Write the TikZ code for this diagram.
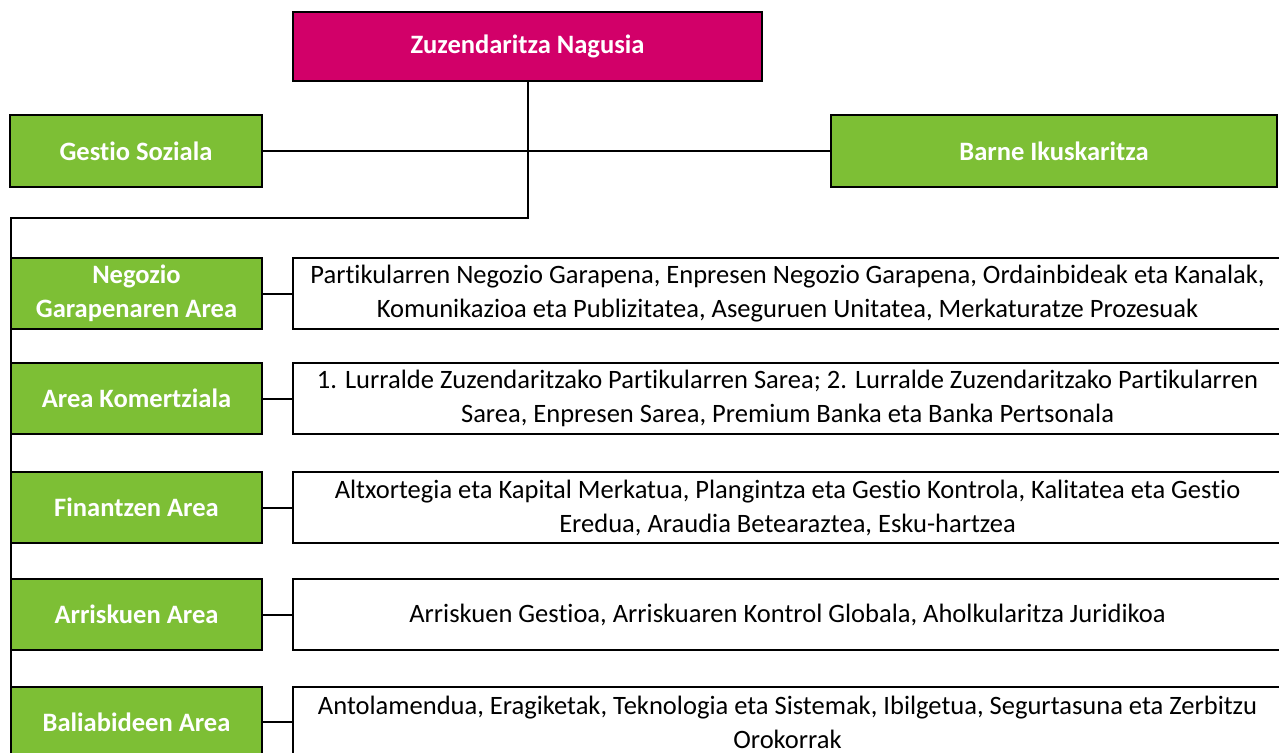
\documentclass[tikz,border=0pt]{standalone}
\usepackage{fontspec}
\setmainfont{Carlito}[Ligatures=NoCommon]
\usetikzlibrary{positioning}
\definecolor{znpink}{RGB}{210,0,105}
\definecolor{areagreen}{RGB}{125,191,53}
\begin{document}
\begin{tikzpicture}[x=0.75pt,y=-0.75pt]

			\tikzstyle{head}=[fill=znpink,draw=black,line width=1.5pt,
				minimum width=351.75pt,minimum height=51.75pt,
				text=white,font=\fontsize{19.9}{25.5}\selectfont\bfseries]
			\tikzstyle{area}=[fill=areagreen,draw=black,line width=1.5pt,
				minimum width=188.25pt,minimum height=53.25pt,
				align=center,text=white,inner sep=2pt,
				font=\fontsize{19.9}{25.5}\selectfont\bfseries]
			\tikzstyle{units}=[fill=white,draw=black,line width=1.5pt,
				minimum width=741.75pt,minimum height=53.25pt,
				node distance=488.25pt,align=center,inner sep=2pt,
				font=\fontsize{19.9}{25.5}\selectfont]
			\tikzstyle{link}=[draw=black,line width=1.5pt]

			\useasboundingbox (0,0) rectangle (1279,753);
			\clip (0,0) rectangle (1279,753);

			\node[head]		(zn)	at (527.5,46.5)	{Zuzendaritza Nagusia};
			\node[area,minimum width=189pt,minimum height=54pt]	(gs)	at (136,151)	{Gestio Soziala};
			\node[area,minimum width=334.5pt,minimum height=54pt]	(bi)	at (1054,151)	{Barne Ikuskaritza};

			\node[area]		(a1)	at (136.5,293.5)	{Negozio\\Garapenaren Area};
			\node[area]		(a2)	at (136.5,398.5)	{Area Komertziala};
			\node[area]		(a3)	at (136.5,507.5)	{Finantzen Area};
			\node[area]		(a4)	at (136.5,614.5)	{Arriskuen Area};
			\node[area]		(a5)	at (136.5,722)	{Baliabideen Area};

			\node[units,right of=a1]	(u1)	{Partikularren Negozio Garapena, Enpresen Negozio Garapena, Ordainbideak eta Kanalak,\\Komunikazioa eta Publizitatea, Aseguruen Unitatea, Merkaturatze Prozesuak};
			\node[units,right of=a2]	(u2)	{1. Lurralde Zuzendaritzako Partikularren Sarea; 2. Lurralde Zuzendaritzako Partikularren\\Sarea, Enpresen Sarea, Premium Banka eta Banka Pertsonala};
			\node[units,right of=a3]	(u3)	{Altxortegia eta Kapital Merkatua, Plangintza eta Gestio Kontrola, Kalitatea eta Gestio\\Eredua, Araudia Betearaztea, Esku-hartzea};
			\node[units,right of=a4]	(u4)	{Arriskuen Gestioa, Arriskuaren Kontrol Globala, Aholkularitza Juridikoa};
			\node[units,right of=a5]	(u5)	{Antolamendua, Eragiketak, Teknologia eta Sistemak, Ibilgetua, Segurtasuna eta Zerbitzu\\Orokorrak};

			\coordinate (bend)	at (11,218);
			\coordinate (spineend)	at (11,760);

			\draw[link] (gs.east) -- (bi.west);
			\draw[link] (zn.south) |- (bend) -- (spineend);
			\foreach \i in {1,...,5}
				\draw[link] (a\i.east) -- (u\i.west);

		\end{tikzpicture}
\end{document}
